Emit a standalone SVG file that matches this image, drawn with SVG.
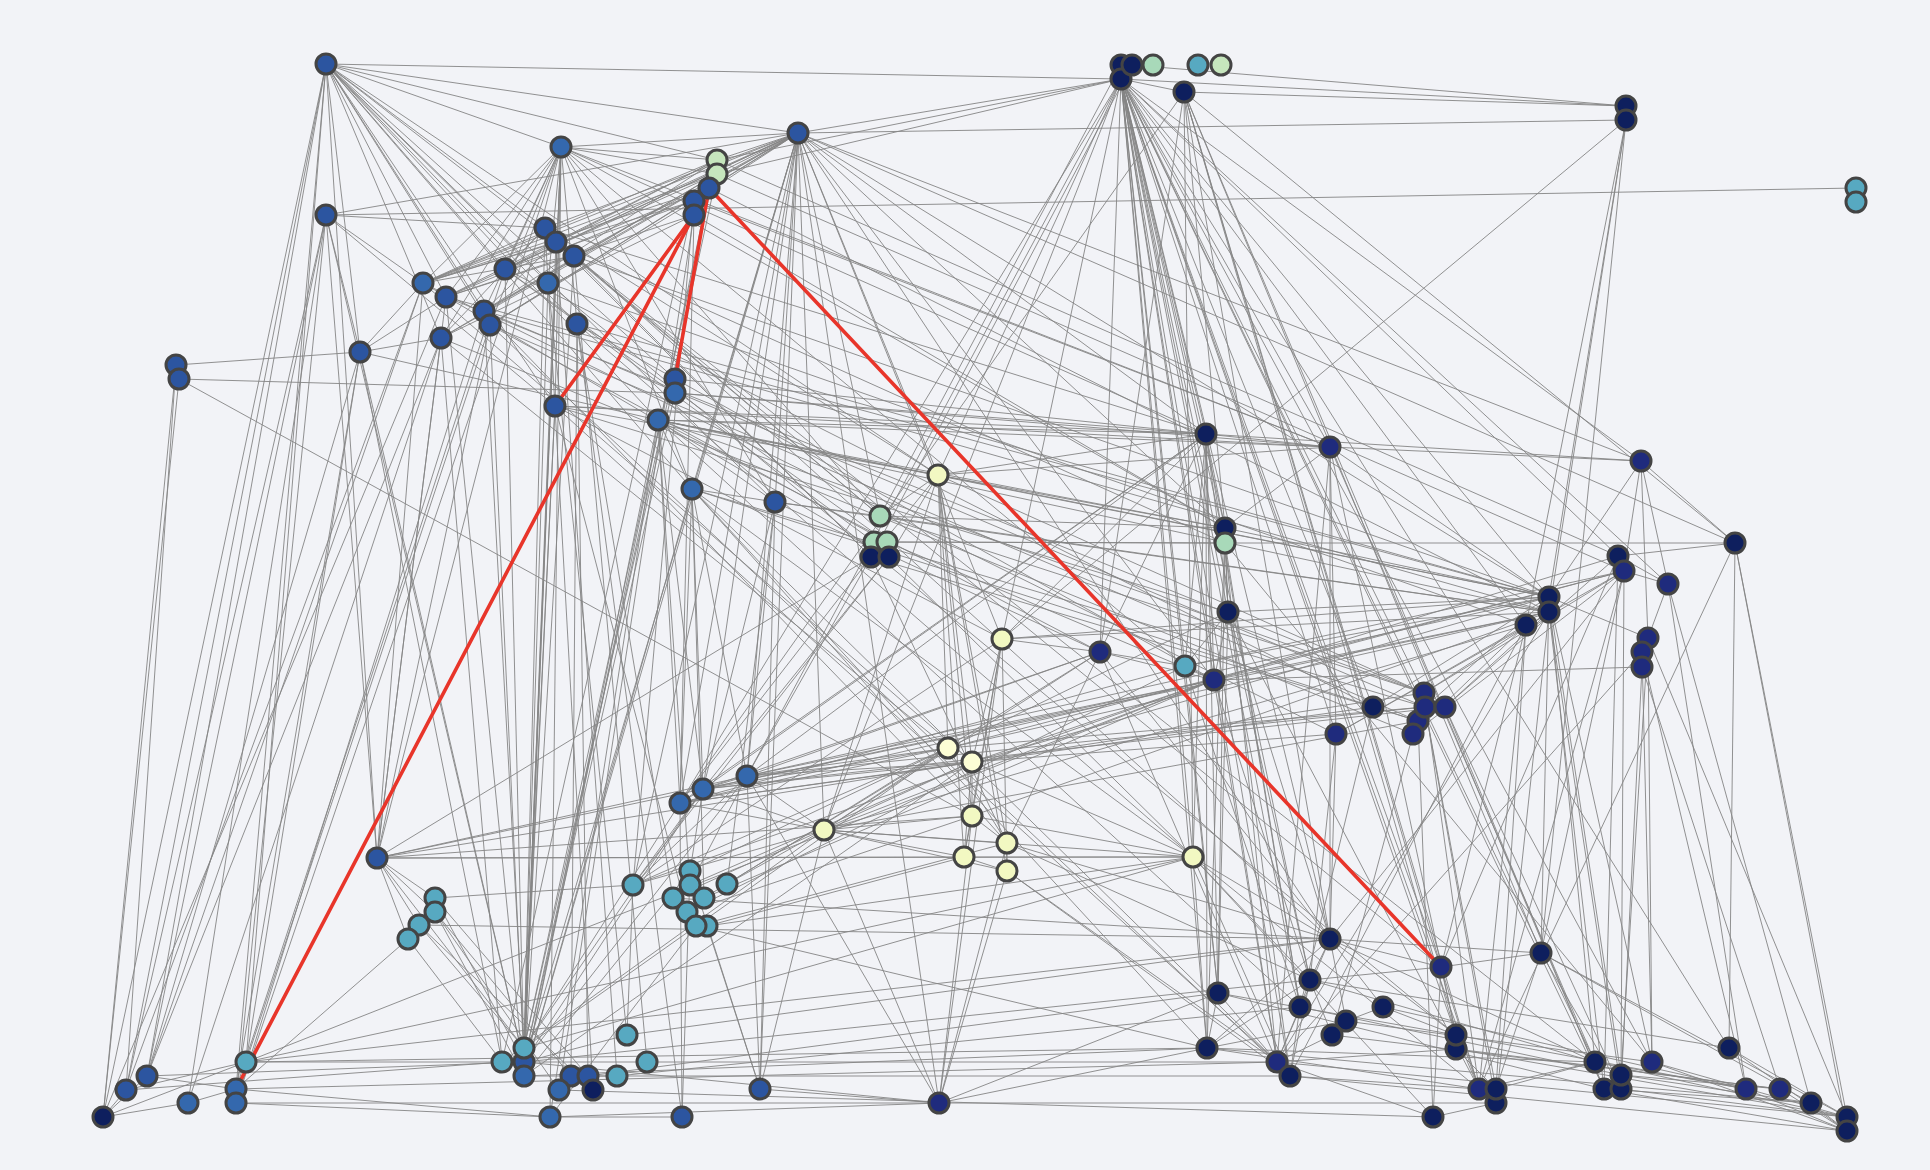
<svg xmlns="http://www.w3.org/2000/svg" width="1930" height="1170" viewBox="0 0 1930 1170">
<style>
.e line{stroke:#858585;stroke-width:1;stroke-opacity:0.9}
.r line{stroke:#e8352a;stroke-width:3.6;stroke-linecap:round}
circle{stroke:#444;stroke-width:3}
.b1{fill:#2c55a0}.b2{fill:#3468ad}.nv{fill:#1f2b7d}.dk{fill:#0e1f5e}.tl{fill:#57a9c1}.lg{fill:#a8d9b9}.pg{fill:#c6e6bd}.yl{fill:#f2f8c2}.yw{fill:#fdfed5}
</style>
<rect width="1930" height="1170" fill="#f2f3f7"/>
<g id="connectors">
<g class="e">
<line x1="326" y1="64" x2="1121" y2="79"/><line x1="326" y1="64" x2="798" y2="133"/><line x1="326" y1="64" x2="561" y2="147"/><line x1="326" y1="64" x2="717" y2="160"/><line x1="326" y1="64" x2="545" y2="228"/><line x1="326" y1="64" x2="574" y2="256"/><line x1="326" y1="64" x2="505" y2="269"/><line x1="326" y1="64" x2="548" y2="283"/><line x1="326" y1="64" x2="446" y2="297"/><line x1="326" y1="64" x2="484" y2="311"/><line x1="326" y1="64" x2="490" y2="325"/><line x1="326" y1="64" x2="577" y2="324"/><line x1="326" y1="64" x2="441" y2="338"/><line x1="326" y1="64" x2="555" y2="406"/><line x1="326" y1="64" x2="658" y2="420"/><line x1="326" y1="64" x2="675" y2="379"/><line x1="326" y1="64" x2="692" y2="489"/><line x1="326" y1="64" x2="775" y2="502"/><line x1="326" y1="64" x2="938" y2="475"/><line x1="326" y1="64" x2="360" y2="352"/><line x1="326" y1="64" x2="377" y2="858"/><line x1="326" y1="64" x2="147" y2="1076"/><line x1="326" y1="64" x2="126" y2="1090"/><line x1="326" y1="64" x2="103" y2="1117"/><line x1="326" y1="64" x2="236" y2="1089"/><line x1="326" y1="64" x2="246" y2="1062"/>
<line x1="326" y1="215" x2="545" y2="228"/><line x1="326" y1="215" x2="423" y2="283"/><line x1="326" y1="215" x2="360" y2="352"/><line x1="326" y1="215" x2="377" y2="858"/><line x1="326" y1="215" x2="147" y2="1076"/><line x1="326" y1="215" x2="126" y2="1090"/><line x1="326" y1="215" x2="188" y2="1103"/><line x1="326" y1="215" x2="236" y2="1103"/><line x1="326" y1="215" x2="1856" y2="188"/><line x1="326" y1="215" x2="555" y2="406"/><line x1="326" y1="215" x2="524" y2="1062"/>
<line x1="176" y1="365" x2="360" y2="352"/><line x1="176" y1="365" x2="179" y2="379"/><line x1="176" y1="365" x2="103" y2="1117"/><line x1="176" y1="365" x2="126" y2="1090"/><line x1="179" y1="379" x2="103" y2="1117"/><line x1="179" y1="379" x2="675" y2="393"/><line x1="179" y1="379" x2="972" y2="816"/><line x1="360" y1="352" x2="423" y2="283"/><line x1="360" y1="352" x2="446" y2="297"/><line x1="360" y1="352" x2="441" y2="338"/><line x1="360" y1="352" x2="658" y2="420"/><line x1="360" y1="352" x2="147" y2="1076"/><line x1="360" y1="352" x2="236" y2="1089"/><line x1="360" y1="352" x2="246" y2="1062"/><line x1="360" y1="352" x2="524" y2="1062"/><line x1="360" y1="352" x2="502" y2="1062"/>
<line x1="561" y1="147" x2="798" y2="133"/><line x1="561" y1="147" x2="717" y2="160"/><line x1="561" y1="147" x2="717" y2="174"/><line x1="561" y1="147" x2="423" y2="283"/><line x1="561" y1="147" x2="505" y2="269"/><line x1="561" y1="147" x2="446" y2="297"/><line x1="561" y1="147" x2="484" y2="311"/><line x1="561" y1="147" x2="490" y2="325"/><line x1="561" y1="147" x2="441" y2="338"/><line x1="561" y1="147" x2="548" y2="283"/><line x1="561" y1="147" x2="577" y2="324"/><line x1="561" y1="147" x2="555" y2="406"/><line x1="561" y1="147" x2="524" y2="1048"/><line x1="561" y1="147" x2="524" y2="1062"/><line x1="561" y1="147" x2="524" y2="1076"/><line x1="561" y1="147" x2="550" y2="1117"/><line x1="561" y1="147" x2="377" y2="858"/><line x1="561" y1="147" x2="880" y2="516"/><line x1="561" y1="147" x2="775" y2="502"/><line x1="561" y1="147" x2="1206" y2="434"/><line x1="561" y1="147" x2="1330" y2="447"/><line x1="561" y1="147" x2="1225" y2="528"/><line x1="561" y1="147" x2="1185" y2="666"/><line x1="561" y1="147" x2="692" y2="489"/><line x1="561" y1="147" x2="236" y2="1103"/>
<line x1="798" y1="133" x2="1121" y2="79"/><line x1="798" y1="133" x2="1626" y2="120"/><line x1="798" y1="133" x2="326" y2="215"/><line x1="798" y1="133" x2="545" y2="228"/><line x1="798" y1="133" x2="556" y2="242"/><line x1="798" y1="133" x2="574" y2="256"/><line x1="798" y1="133" x2="505" y2="269"/><line x1="798" y1="133" x2="423" y2="283"/><line x1="798" y1="133" x2="446" y2="297"/><line x1="798" y1="133" x2="484" y2="311"/><line x1="798" y1="133" x2="490" y2="325"/><line x1="798" y1="133" x2="441" y2="338"/><line x1="798" y1="133" x2="717" y2="160"/><line x1="798" y1="133" x2="717" y2="174"/><line x1="798" y1="133" x2="709" y2="188"/><line x1="798" y1="133" x2="694" y2="201"/><line x1="798" y1="133" x2="747" y2="776"/><line x1="798" y1="133" x2="703" y2="789"/><line x1="798" y1="133" x2="680" y2="803"/><line x1="798" y1="133" x2="824" y2="830"/><line x1="798" y1="133" x2="692" y2="489"/><line x1="798" y1="133" x2="775" y2="502"/><line x1="798" y1="133" x2="938" y2="475"/><line x1="798" y1="133" x2="880" y2="516"/><line x1="798" y1="133" x2="1002" y2="639"/><line x1="798" y1="133" x2="524" y2="1062"/><line x1="798" y1="133" x2="524" y2="1076"/><line x1="798" y1="133" x2="760" y2="1089"/><line x1="798" y1="133" x2="939" y2="1103"/><line x1="798" y1="133" x2="1206" y2="434"/><line x1="798" y1="133" x2="1641" y2="461"/><line x1="798" y1="133" x2="1735" y2="543"/><line x1="798" y1="133" x2="1549" y2="597"/><line x1="798" y1="133" x2="1225" y2="528"/><line x1="798" y1="133" x2="1214" y2="680"/><line x1="798" y1="133" x2="1330" y2="939"/><line x1="798" y1="133" x2="633" y2="885"/>
<line x1="423" y1="283" x2="545" y2="228"/><line x1="423" y1="283" x2="556" y2="242"/><line x1="423" y1="283" x2="574" y2="256"/><line x1="423" y1="283" x2="717" y2="160"/><line x1="423" y1="283" x2="717" y2="174"/><line x1="423" y1="283" x2="709" y2="188"/><line x1="423" y1="283" x2="694" y2="201"/><line x1="446" y1="297" x2="717" y2="160"/><line x1="446" y1="297" x2="709" y2="188"/><line x1="446" y1="297" x2="694" y2="215"/><line x1="505" y1="269" x2="717" y2="160"/><line x1="505" y1="269" x2="717" y2="174"/><line x1="505" y1="269" x2="694" y2="201"/><line x1="484" y1="311" x2="717" y2="160"/><line x1="484" y1="311" x2="717" y2="174"/><line x1="490" y1="325" x2="709" y2="188"/><line x1="490" y1="325" x2="694" y2="201"/><line x1="441" y1="338" x2="694" y2="215"/><line x1="441" y1="338" x2="717" y2="174"/><line x1="441" y1="338" x2="545" y2="228"/><line x1="505" y1="269" x2="545" y2="228"/><line x1="484" y1="311" x2="556" y2="242"/><line x1="446" y1="297" x2="574" y2="256"/>
<line x1="423" y1="283" x2="147" y2="1076"/><line x1="423" y1="283" x2="126" y2="1090"/><line x1="446" y1="297" x2="103" y2="1117"/><line x1="505" y1="269" x2="236" y2="1089"/><line x1="484" y1="311" x2="236" y2="1103"/><line x1="490" y1="325" x2="246" y2="1062"/><line x1="441" y1="338" x2="188" y2="1103"/><line x1="441" y1="338" x2="147" y2="1076"/><line x1="446" y1="297" x2="377" y2="858"/><line x1="490" y1="325" x2="377" y2="858"/><line x1="423" y1="283" x2="377" y2="858"/>
<line x1="545" y1="228" x2="524" y2="1048"/><line x1="556" y1="242" x2="524" y2="1062"/><line x1="574" y1="256" x2="524" y2="1076"/><line x1="505" y1="269" x2="524" y2="1062"/><line x1="548" y1="283" x2="524" y2="1048"/><line x1="446" y1="297" x2="524" y2="1076"/><line x1="484" y1="311" x2="524" y2="1048"/><line x1="490" y1="325" x2="524" y2="1062"/><line x1="577" y1="324" x2="571" y2="1076"/><line x1="577" y1="324" x2="588" y2="1076"/><line x1="441" y1="338" x2="502" y2="1062"/><line x1="555" y1="406" x2="524" y2="1062"/><line x1="555" y1="406" x2="524" y2="1048"/><line x1="658" y1="420" x2="524" y2="1076"/><line x1="675" y1="379" x2="524" y2="1048"/><line x1="675" y1="393" x2="524" y2="1062"/><line x1="692" y1="489" x2="524" y2="1076"/><line x1="717" y1="160" x2="524" y2="1048"/><line x1="717" y1="174" x2="524" y2="1062"/><line x1="709" y1="188" x2="524" y2="1076"/><line x1="694" y1="201" x2="502" y2="1062"/><line x1="694" y1="215" x2="559" y2="1090"/><line x1="658" y1="420" x2="550" y2="1117"/><line x1="545" y1="228" x2="593" y2="1090"/><line x1="556" y1="242" x2="617" y2="1076"/><line x1="574" y1="256" x2="647" y2="1062"/><line x1="548" y1="283" x2="627" y2="1035"/><line x1="577" y1="324" x2="682" y2="1117"/><line x1="694" y1="201" x2="633" y2="885"/><line x1="694" y1="215" x2="680" y2="803"/>
<line x1="545" y1="228" x2="1330" y2="939"/><line x1="556" y1="242" x2="1441" y2="967"/><line x1="574" y1="256" x2="1549" y2="597"/><line x1="548" y1="283" x2="1526" y2="625"/><line x1="446" y1="297" x2="1424" y2="693"/><line x1="484" y1="311" x2="1425" y2="707"/><line x1="490" y1="325" x2="1418" y2="721"/><line x1="577" y1="324" x2="1193" y2="857"/><line x1="577" y1="324" x2="1214" y2="680"/><line x1="505" y1="269" x2="1373" y2="707"/><line x1="423" y1="283" x2="1336" y2="734"/><line x1="441" y1="338" x2="1413" y2="734"/><line x1="555" y1="406" x2="1277" y2="1062"/><line x1="658" y1="420" x2="1300" y2="1007"/><line x1="717" y1="160" x2="1618" y2="556"/><line x1="717" y1="174" x2="1624" y2="571"/><line x1="709" y1="188" x2="1549" y2="612"/><line x1="694" y1="201" x2="1330" y2="447"/><line x1="694" y1="215" x2="1225" y2="528"/><line x1="555" y1="406" x2="1002" y2="639"/><line x1="658" y1="420" x2="1100" y2="652"/><line x1="548" y1="283" x2="1456" y2="1035"/><line x1="574" y1="256" x2="1595" y2="1062"/><line x1="490" y1="325" x2="1290" y2="1076"/><line x1="545" y1="228" x2="1206" y2="434"/><line x1="556" y1="242" x2="1225" y2="543"/><line x1="441" y1="338" x2="948" y2="748"/><line x1="423" y1="283" x2="972" y2="762"/><line x1="484" y1="311" x2="972" y2="816"/><line x1="545" y1="228" x2="938" y2="475"/><line x1="574" y1="256" x2="880" y2="516"/><line x1="556" y1="242" x2="871" y2="557"/><line x1="505" y1="269" x2="887" y2="542"/>
<line x1="675" y1="393" x2="1206" y2="434"/><line x1="675" y1="393" x2="1330" y2="447"/><line x1="675" y1="379" x2="1206" y2="434"/><line x1="658" y1="420" x2="1206" y2="434"/><line x1="658" y1="420" x2="1330" y2="447"/><line x1="658" y1="420" x2="1225" y2="528"/><line x1="658" y1="420" x2="1549" y2="597"/><line x1="658" y1="420" x2="1549" y2="612"/><line x1="658" y1="420" x2="1424" y2="693"/><line x1="658" y1="420" x2="938" y2="475"/><line x1="658" y1="420" x2="692" y2="489"/><line x1="658" y1="420" x2="775" y2="502"/><line x1="658" y1="420" x2="680" y2="803"/><line x1="658" y1="420" x2="703" y2="789"/><line x1="692" y1="489" x2="775" y2="502"/><line x1="692" y1="489" x2="747" y2="776"/><line x1="692" y1="489" x2="703" y2="789"/><line x1="692" y1="489" x2="680" y2="803"/><line x1="692" y1="489" x2="1193" y2="857"/><line x1="692" y1="489" x2="1425" y2="707"/><line x1="692" y1="489" x2="1418" y2="721"/><line x1="692" y1="489" x2="1207" y2="1048"/><line x1="692" y1="489" x2="1277" y2="1062"/><line x1="692" y1="489" x2="1007" y2="843"/><line x1="775" y1="502" x2="880" y2="516"/><line x1="775" y1="502" x2="747" y2="776"/><line x1="775" y1="502" x2="703" y2="789"/><line x1="775" y1="502" x2="760" y2="1089"/><line x1="775" y1="502" x2="1100" y2="652"/><line x1="555" y1="406" x2="1330" y2="447"/><line x1="555" y1="406" x2="1206" y2="434"/><line x1="555" y1="406" x2="938" y2="475"/><line x1="555" y1="406" x2="1228" y2="612"/>
<line x1="1121" y1="79" x2="1626" y2="106"/><line x1="1132" y1="65" x2="1626" y2="106"/><line x1="1121" y1="79" x2="1184" y2="92"/><line x1="1121" y1="79" x2="717" y2="160"/><line x1="1121" y1="79" x2="717" y2="174"/><line x1="1121" y1="79" x2="1206" y2="434"/><line x1="1121" y1="79" x2="1225" y2="528"/><line x1="1121" y1="79" x2="1225" y2="543"/><line x1="1121" y1="79" x2="1228" y2="612"/><line x1="1121" y1="79" x2="1100" y2="652"/><line x1="1121" y1="79" x2="1185" y2="666"/><line x1="1121" y1="79" x2="1214" y2="680"/><line x1="1121" y1="79" x2="1330" y2="447"/><line x1="1121" y1="79" x2="1641" y2="461"/><line x1="1121" y1="79" x2="1618" y2="556"/><line x1="1121" y1="79" x2="1668" y2="584"/><line x1="1121" y1="79" x2="1549" y2="597"/><line x1="1121" y1="79" x2="1526" y2="625"/><line x1="1121" y1="79" x2="1424" y2="693"/><line x1="1121" y1="79" x2="1373" y2="707"/><line x1="1121" y1="79" x2="1336" y2="734"/><line x1="1121" y1="79" x2="1330" y2="939"/><line x1="1121" y1="79" x2="1441" y2="967"/><line x1="1121" y1="79" x2="1310" y2="980"/><line x1="1121" y1="79" x2="1300" y2="1007"/><line x1="1121" y1="79" x2="1218" y2="993"/><line x1="1121" y1="79" x2="1207" y2="1048"/><line x1="1121" y1="79" x2="1277" y2="1062"/><line x1="1121" y1="79" x2="1290" y2="1076"/><line x1="1121" y1="79" x2="1456" y2="1035"/><line x1="1121" y1="79" x2="1479" y2="1089"/><line x1="1121" y1="79" x2="1595" y2="1062"/><line x1="1121" y1="79" x2="1604" y2="1089"/><line x1="1121" y1="79" x2="747" y2="776"/><line x1="1121" y1="79" x2="824" y2="830"/><line x1="1121" y1="79" x2="680" y2="803"/><line x1="1121" y1="79" x2="1002" y2="639"/><line x1="1121" y1="79" x2="938" y2="475"/><line x1="1121" y1="79" x2="1193" y2="857"/><line x1="1121" y1="79" x2="1652" y2="1062"/><line x1="1121" y1="79" x2="1729" y2="1048"/><line x1="1121" y1="65" x2="880" y2="516"/><line x1="1132" y1="65" x2="871" y2="557"/>
<line x1="1184" y1="92" x2="1626" y2="106"/><line x1="1184" y1="92" x2="1100" y2="652"/><line x1="1184" y1="92" x2="1193" y2="857"/><line x1="1184" y1="92" x2="1330" y2="939"/><line x1="1184" y1="92" x2="1441" y2="967"/><line x1="1184" y1="92" x2="680" y2="803"/><line x1="1184" y1="92" x2="1456" y2="1035"/><line x1="1184" y1="92" x2="1541" y2="953"/><line x1="1184" y1="92" x2="1479" y2="1089"/><line x1="1184" y1="92" x2="1604" y2="1089"/><line x1="1184" y1="92" x2="1225" y2="528"/><line x1="1184" y1="92" x2="1735" y2="543"/>
<line x1="1626" y1="120" x2="1549" y2="597"/><line x1="1626" y1="120" x2="1526" y2="625"/><line x1="1626" y1="120" x2="1541" y2="953"/><line x1="1626" y1="120" x2="1002" y2="639"/><line x1="1626" y1="120" x2="1549" y2="612"/>
<line x1="938" y1="475" x2="948" y2="748"/><line x1="938" y1="475" x2="972" y2="762"/><line x1="938" y1="475" x2="824" y2="830"/><line x1="938" y1="475" x2="972" y2="816"/><line x1="938" y1="475" x2="1007" y2="843"/><line x1="938" y1="475" x2="964" y2="857"/><line x1="938" y1="475" x2="871" y2="557"/><line x1="938" y1="475" x2="889" y2="557"/><line x1="938" y1="475" x2="880" y2="516"/><line x1="938" y1="475" x2="1206" y2="434"/><line x1="938" y1="475" x2="1225" y2="528"/><line x1="938" y1="475" x2="1330" y2="447"/><line x1="938" y1="475" x2="1007" y2="871"/><line x1="938" y1="475" x2="1424" y2="693"/><line x1="938" y1="475" x2="1549" y2="597"/>
<line x1="880" y1="516" x2="1225" y2="528"/><line x1="874" y1="542" x2="1225" y2="543"/><line x1="887" y1="542" x2="1225" y2="543"/><line x1="871" y1="557" x2="747" y2="776"/><line x1="889" y1="557" x2="703" y2="789"/><line x1="871" y1="557" x2="680" y2="803"/><line x1="889" y1="557" x2="633" y2="885"/><line x1="871" y1="557" x2="377" y2="858"/><line x1="880" y1="516" x2="556" y2="242"/><line x1="874" y1="542" x2="505" y2="269"/><line x1="887" y1="542" x2="490" y2="325"/><line x1="871" y1="557" x2="545" y2="228"/><line x1="889" y1="557" x2="423" y2="283"/><line x1="889" y1="557" x2="1193" y2="857"/><line x1="871" y1="557" x2="1007" y2="843"/><line x1="887" y1="542" x2="1214" y2="680"/>
<line x1="1206" y1="434" x2="1330" y2="447"/><line x1="1206" y1="434" x2="1641" y2="461"/><line x1="1206" y1="434" x2="1225" y2="528"/><line x1="1206" y1="434" x2="1100" y2="652"/><line x1="1206" y1="434" x2="1185" y2="666"/><line x1="1206" y1="434" x2="1214" y2="680"/><line x1="1206" y1="434" x2="1193" y2="857"/><line x1="1206" y1="434" x2="1300" y2="1007"/><line x1="1206" y1="434" x2="1218" y2="993"/><line x1="1206" y1="434" x2="1207" y2="1048"/><line x1="1206" y1="434" x2="1290" y2="1076"/><line x1="1206" y1="434" x2="703" y2="789"/><line x1="1206" y1="434" x2="680" y2="803"/><line x1="1206" y1="434" x2="747" y2="776"/><line x1="1206" y1="434" x2="1002" y2="639"/>
<line x1="1225" y1="528" x2="1330" y2="447"/><line x1="1225" y1="528" x2="1549" y2="597"/><line x1="1225" y1="543" x2="1735" y2="543"/><line x1="1225" y1="528" x2="1228" y2="612"/><line x1="1225" y1="543" x2="1228" y2="612"/><line x1="1225" y1="528" x2="1218" y2="993"/><line x1="1225" y1="528" x2="1207" y2="1048"/><line x1="1225" y1="543" x2="1277" y2="1062"/><line x1="1225" y1="543" x2="1300" y2="1007"/><line x1="1225" y1="543" x2="1652" y2="1062"/><line x1="1228" y1="612" x2="1214" y2="680"/><line x1="1228" y1="612" x2="1185" y2="666"/><line x1="1228" y1="612" x2="1330" y2="939"/><line x1="1228" y1="612" x2="1218" y2="993"/><line x1="1228" y1="612" x2="1310" y2="980"/><line x1="1228" y1="612" x2="1549" y2="597"/><line x1="1228" y1="612" x2="1479" y2="1089"/>
<line x1="1002" y1="639" x2="1100" y2="652"/><line x1="1002" y1="639" x2="1549" y2="597"/><line x1="1002" y1="639" x2="1549" y2="612"/><line x1="1002" y1="639" x2="964" y2="857"/><line x1="1002" y1="639" x2="1007" y2="871"/><line x1="1002" y1="639" x2="939" y2="1103"/><line x1="1002" y1="639" x2="972" y2="762"/><line x1="1002" y1="639" x2="972" y2="816"/><line x1="1002" y1="639" x2="633" y2="885"/><line x1="1100" y1="652" x2="1185" y2="666"/><line x1="1100" y1="652" x2="1214" y2="680"/><line x1="1100" y1="652" x2="747" y2="776"/><line x1="1100" y1="652" x2="703" y2="789"/><line x1="1100" y1="652" x2="824" y2="830"/><line x1="1100" y1="652" x2="1007" y2="843"/><line x1="1100" y1="652" x2="1330" y2="939"/><line x1="1100" y1="652" x2="1277" y2="1062"/><line x1="1185" y1="666" x2="1214" y2="680"/><line x1="1185" y1="666" x2="1624" y2="571"/><line x1="1185" y1="666" x2="1549" y2="597"/><line x1="1185" y1="666" x2="1218" y2="993"/><line x1="1185" y1="666" x2="1300" y2="1007"/><line x1="1185" y1="666" x2="680" y2="803"/><line x1="1214" y1="680" x2="1642" y2="667"/><line x1="1214" y1="680" x2="1618" y2="556"/><line x1="1214" y1="680" x2="1624" y2="571"/><line x1="1214" y1="680" x2="1549" y2="612"/><line x1="1214" y1="680" x2="703" y2="789"/><line x1="1214" y1="680" x2="680" y2="803"/><line x1="1214" y1="680" x2="747" y2="776"/><line x1="1214" y1="680" x2="824" y2="830"/><line x1="1214" y1="680" x2="633" y2="885"/><line x1="1214" y1="680" x2="1310" y2="980"/><line x1="1214" y1="680" x2="1277" y2="1062"/>
<line x1="1330" y1="447" x2="1641" y2="461"/><line x1="1330" y1="447" x2="1336" y2="734"/><line x1="1330" y1="447" x2="1330" y2="939"/><line x1="1330" y1="447" x2="1277" y2="1062"/><line x1="1330" y1="447" x2="1456" y2="1035"/><line x1="1330" y1="447" x2="1595" y2="1062"/><line x1="1330" y1="447" x2="1549" y2="597"/><line x1="1641" y1="461" x2="1735" y2="543"/><line x1="1641" y1="461" x2="1668" y2="584"/><line x1="1641" y1="461" x2="1549" y2="597"/><line x1="1641" y1="461" x2="1648" y2="638"/><line x1="1641" y1="461" x2="1624" y2="571"/><line x1="1735" y1="543" x2="1618" y2="556"/><line x1="1735" y1="543" x2="1729" y2="1048"/><line x1="1735" y1="543" x2="1479" y2="1089"/><line x1="1735" y1="543" x2="1847" y2="1117"/><line x1="1735" y1="543" x2="1847" y2="1131"/>
<line x1="1618" y1="556" x2="1668" y2="584"/><line x1="1624" y1="571" x2="1668" y2="584"/><line x1="1624" y1="571" x2="1424" y2="693"/><line x1="1618" y1="556" x2="1445" y2="707"/><line x1="1624" y1="571" x2="1413" y2="734"/><line x1="1624" y1="571" x2="1336" y2="734"/><line x1="1624" y1="571" x2="1330" y2="939"/><line x1="1618" y1="556" x2="1604" y2="1089"/><line x1="1624" y1="571" x2="1621" y2="1075"/><line x1="1624" y1="571" x2="1541" y2="953"/><line x1="1624" y1="571" x2="1479" y2="1089"/><line x1="1618" y1="556" x2="1441" y2="967"/><line x1="1668" y1="584" x2="1811" y2="1103"/><line x1="1668" y1="584" x2="1746" y2="1089"/><line x1="1668" y1="584" x2="1648" y2="638"/>
<line x1="1549" y1="597" x2="1648" y2="638"/><line x1="1549" y1="612" x2="1424" y2="693"/><line x1="1549" y1="597" x2="1425" y2="707"/><line x1="1549" y1="612" x2="1445" y2="707"/><line x1="1526" y1="625" x2="1413" y2="734"/><line x1="1526" y1="625" x2="1336" y2="734"/><line x1="1549" y1="597" x2="1595" y2="1062"/><line x1="1549" y1="597" x2="1621" y2="1075"/><line x1="1549" y1="612" x2="1604" y2="1089"/><line x1="1549" y1="612" x2="1621" y2="1089"/><line x1="1526" y1="625" x2="1479" y2="1089"/><line x1="1526" y1="625" x2="1496" y2="1089"/><line x1="1549" y1="597" x2="1541" y2="953"/><line x1="1549" y1="612" x2="1496" y2="1103"/><line x1="1526" y1="625" x2="1441" y2="967"/><line x1="1549" y1="597" x2="1652" y2="1062"/><line x1="1549" y1="612" x2="1277" y2="1062"/><line x1="1526" y1="625" x2="1290" y2="1076"/><line x1="1549" y1="597" x2="1373" y2="707"/>
<line x1="446" y1="297" x2="1549" y2="597"/><line x1="484" y1="311" x2="1549" y2="612"/><line x1="577" y1="324" x2="1549" y2="597"/><line x1="775" y1="502" x2="1549" y2="612"/><line x1="880" y1="516" x2="1549" y2="612"/><line x1="747" y1="776" x2="1549" y2="597"/><line x1="703" y1="789" x2="1549" y2="612"/><line x1="824" y1="830" x2="1526" y2="625"/><line x1="972" y1="816" x2="1549" y2="612"/>
<line x1="1648" y1="638" x2="1652" y2="1062"/><line x1="1642" y1="652" x2="1652" y2="1062"/><line x1="1642" y1="667" x2="1621" y2="1089"/><line x1="1648" y1="638" x2="1621" y2="1075"/><line x1="1642" y1="652" x2="1746" y2="1089"/><line x1="1642" y1="667" x2="1780" y2="1089"/><line x1="1648" y1="638" x2="1847" y2="1117"/><line x1="1642" y1="652" x2="1277" y2="1062"/>
<line x1="1424" y1="693" x2="880" y2="516"/><line x1="1425" y1="707" x2="747" y2="776"/><line x1="1445" y1="707" x2="703" y2="789"/><line x1="1373" y1="707" x2="680" y2="803"/><line x1="1418" y1="721" x2="824" y2="830"/><line x1="1336" y1="734" x2="972" y2="762"/><line x1="1373" y1="707" x2="871" y2="557"/><line x1="1424" y1="693" x2="1479" y2="1089"/><line x1="1425" y1="707" x2="1496" y2="1089"/><line x1="1445" y1="707" x2="1604" y2="1089"/><line x1="1373" y1="707" x2="1300" y2="1007"/><line x1="1418" y1="721" x2="1433" y2="1117"/><line x1="1413" y1="734" x2="1332" y2="1035"/><line x1="1336" y1="734" x2="1330" y2="939"/><line x1="1336" y1="734" x2="1310" y2="980"/><line x1="1445" y1="707" x2="1621" y2="1089"/><line x1="1425" y1="707" x2="1496" y2="1103"/><line x1="1424" y1="693" x2="1425" y2="707"/><line x1="1373" y1="707" x2="1418" y2="721"/>
<line x1="1330" y1="939" x2="1441" y2="967"/><line x1="1330" y1="939" x2="1541" y2="953"/><line x1="1330" y1="939" x2="1310" y2="980"/><line x1="1330" y1="939" x2="1383" y2="1007"/><line x1="1330" y1="939" x2="1346" y2="1021"/><line x1="1330" y1="939" x2="1207" y2="1048"/><line x1="1330" y1="939" x2="1277" y2="1062"/><line x1="1330" y1="939" x2="1456" y2="1035"/><line x1="1330" y1="939" x2="1595" y2="1062"/><line x1="1441" y1="967" x2="1541" y2="953"/><line x1="1441" y1="967" x2="1310" y2="980"/><line x1="1441" y1="967" x2="1456" y2="1035"/><line x1="1441" y1="967" x2="1479" y2="1089"/><line x1="1441" y1="967" x2="1433" y2="1117"/><line x1="1541" y1="953" x2="1811" y2="1103"/><line x1="1541" y1="953" x2="1621" y2="1089"/><line x1="1541" y1="953" x2="1847" y2="1117"/><line x1="1541" y1="953" x2="1496" y2="1089"/>
<line x1="1310" y1="980" x2="1300" y2="1007"/><line x1="1310" y1="980" x2="1332" y2="1035"/><line x1="1310" y1="980" x2="1207" y2="1048"/><line x1="1310" y1="980" x2="1290" y2="1076"/><line x1="1310" y1="980" x2="1595" y2="1062"/><line x1="1310" y1="980" x2="1729" y2="1048"/><line x1="1300" y1="1007" x2="1277" y2="1062"/><line x1="1300" y1="1007" x2="1290" y2="1076"/><line x1="1300" y1="1007" x2="1621" y2="1075"/><line x1="1383" y1="1007" x2="1346" y2="1021"/><line x1="1383" y1="1007" x2="1456" y2="1035"/><line x1="1383" y1="1007" x2="1746" y2="1089"/><line x1="1346" y1="1021" x2="1207" y2="1048"/><line x1="1332" y1="1035" x2="1277" y2="1062"/><line x1="1346" y1="1021" x2="1652" y2="1062"/><line x1="1332" y1="1035" x2="1780" y2="1089"/><line x1="1218" y1="993" x2="1207" y2="1048"/><line x1="1218" y1="993" x2="1277" y2="1062"/><line x1="1218" y1="993" x2="1456" y2="1035"/><line x1="1218" y1="993" x2="1604" y2="1089"/><line x1="1207" y1="1048" x2="1479" y2="1089"/><line x1="1207" y1="1048" x2="1595" y2="1062"/><line x1="1207" y1="1048" x2="1811" y2="1103"/><line x1="1277" y1="1062" x2="1456" y2="1049"/><line x1="1277" y1="1062" x2="1847" y2="1117"/><line x1="1277" y1="1062" x2="1433" y2="1117"/>
<line x1="1456" y1="1035" x2="1479" y2="1089"/><line x1="1456" y1="1049" x2="1496" y2="1089"/><line x1="1456" y1="1035" x2="1746" y2="1089"/><line x1="1456" y1="1049" x2="1780" y2="1089"/><line x1="1456" y1="1049" x2="1847" y2="1117"/><line x1="1479" y1="1089" x2="1595" y2="1062"/><line x1="1496" y1="1089" x2="1595" y2="1062"/><line x1="1496" y1="1103" x2="1433" y2="1117"/><line x1="1595" y1="1062" x2="1746" y2="1089"/><line x1="1621" y1="1075" x2="1780" y2="1089"/><line x1="1604" y1="1089" x2="1811" y2="1103"/><line x1="1621" y1="1089" x2="1847" y2="1117"/><line x1="1652" y1="1062" x2="1847" y2="1117"/><line x1="1652" y1="1062" x2="1847" y2="1131"/><line x1="1729" y1="1048" x2="1847" y2="1117"/><line x1="1729" y1="1048" x2="1847" y2="1131"/><line x1="1746" y1="1089" x2="1847" y2="1131"/><line x1="1780" y1="1089" x2="1847" y2="1131"/><line x1="1811" y1="1103" x2="1847" y2="1131"/><line x1="1621" y1="1075" x2="1811" y2="1103"/><line x1="1595" y1="1062" x2="1847" y2="1117"/><line x1="1604" y1="1089" x2="1847" y2="1131"/><line x1="1290" y1="1076" x2="1479" y2="1089"/><line x1="1290" y1="1076" x2="1847" y2="1131"/>
<line x1="236" y1="1089" x2="550" y2="1117"/><line x1="236" y1="1103" x2="550" y2="1117"/><line x1="236" y1="1103" x2="939" y2="1103"/><line x1="236" y1="1089" x2="1277" y2="1062"/><line x1="246" y1="1062" x2="524" y2="1062"/><line x1="246" y1="1062" x2="1207" y2="1048"/><line x1="147" y1="1076" x2="524" y2="1062"/><line x1="126" y1="1090" x2="502" y2="1062"/><line x1="103" y1="1117" x2="188" y2="1103"/><line x1="103" y1="1117" x2="126" y2="1090"/><line x1="103" y1="1117" x2="147" y2="1076"/><line x1="188" y1="1103" x2="236" y2="1089"/><line x1="147" y1="1076" x2="236" y2="1089"/><line x1="246" y1="1062" x2="1193" y2="857"/><line x1="246" y1="1062" x2="1330" y2="939"/><line x1="246" y1="1062" x2="1214" y2="680"/><line x1="103" y1="1117" x2="246" y2="1062"/><line x1="126" y1="1090" x2="246" y2="1062"/>
<line x1="377" y1="858" x2="435" y2="898"/><line x1="377" y1="858" x2="435" y2="912"/><line x1="377" y1="858" x2="419" y2="925"/><line x1="377" y1="858" x2="408" y2="939"/><line x1="377" y1="858" x2="1193" y2="857"/><line x1="377" y1="858" x2="972" y2="816"/><line x1="377" y1="858" x2="972" y2="762"/><line x1="377" y1="858" x2="964" y2="857"/><line x1="377" y1="858" x2="524" y2="1048"/><line x1="435" y1="898" x2="524" y2="1062"/><line x1="435" y1="912" x2="524" y2="1076"/><line x1="419" y1="925" x2="524" y2="1048"/><line x1="408" y1="939" x2="502" y2="1062"/><line x1="435" y1="898" x2="588" y2="1076"/><line x1="435" y1="912" x2="559" y2="1090"/><line x1="419" y1="925" x2="593" y2="1090"/><line x1="435" y1="898" x2="633" y2="885"/><line x1="419" y1="925" x2="1330" y2="939"/><line x1="408" y1="939" x2="236" y2="1089"/><line x1="435" y1="912" x2="571" y2="1076"/><line x1="377" y1="858" x2="441" y2="338"/>
<line x1="690" y1="871" x2="948" y2="748"/><line x1="690" y1="885" x2="972" y2="762"/><line x1="727" y1="884" x2="824" y2="830"/><line x1="673" y1="898" x2="972" y2="762"/><line x1="704" y1="898" x2="948" y2="748"/><line x1="687" y1="912" x2="972" y2="816"/><line x1="696" y1="926" x2="1007" y2="843"/><line x1="707" y1="926" x2="964" y2="857"/><line x1="690" y1="871" x2="703" y2="789"/><line x1="690" y1="885" x2="747" y2="776"/><line x1="690" y1="871" x2="682" y2="1117"/><line x1="696" y1="926" x2="550" y2="1117"/><line x1="707" y1="926" x2="760" y2="1089"/><line x1="690" y1="885" x2="658" y2="420"/><line x1="727" y1="884" x2="775" y2="502"/><line x1="673" y1="898" x2="577" y2="324"/><line x1="704" y1="898" x2="692" y2="489"/><line x1="687" y1="912" x2="555" y2="406"/><line x1="727" y1="884" x2="1100" y2="652"/><line x1="704" y1="898" x2="1214" y2="680"/><line x1="687" y1="912" x2="1185" y2="666"/><line x1="707" y1="926" x2="1193" y2="857"/><line x1="696" y1="926" x2="1207" y2="1048"/><line x1="673" y1="898" x2="1330" y2="939"/><line x1="633" y1="885" x2="627" y2="1035"/><line x1="633" y1="885" x2="747" y2="776"/>
<line x1="948" y1="748" x2="747" y2="776"/><line x1="948" y1="748" x2="703" y2="789"/><line x1="948" y1="748" x2="680" y2="803"/><line x1="972" y1="762" x2="747" y2="776"/><line x1="972" y1="762" x2="703" y2="789"/><line x1="972" y1="762" x2="680" y2="803"/><line x1="948" y1="748" x2="824" y2="830"/><line x1="972" y1="762" x2="972" y2="816"/><line x1="948" y1="748" x2="1007" y2="843"/><line x1="972" y1="762" x2="964" y2="857"/><line x1="948" y1="748" x2="1624" y2="571"/><line x1="972" y1="762" x2="1549" y2="597"/><line x1="948" y1="748" x2="1549" y2="612"/><line x1="972" y1="762" x2="1424" y2="693"/><line x1="948" y1="748" x2="1425" y2="707"/><line x1="972" y1="762" x2="1193" y2="857"/><line x1="948" y1="748" x2="1228" y2="612"/><line x1="972" y1="762" x2="1214" y2="680"/><line x1="948" y1="748" x2="633" y2="885"/>
<line x1="824" y1="830" x2="747" y2="776"/><line x1="824" y1="830" x2="703" y2="789"/><line x1="824" y1="830" x2="680" y2="803"/><line x1="824" y1="830" x2="972" y2="816"/><line x1="824" y1="830" x2="1007" y2="843"/><line x1="824" y1="830" x2="964" y2="857"/><line x1="824" y1="830" x2="1007" y2="871"/><line x1="824" y1="830" x2="939" y2="1103"/><line x1="824" y1="830" x2="760" y2="1089"/><line x1="824" y1="830" x2="633" y2="885"/><line x1="824" y1="830" x2="1193" y2="857"/><line x1="972" y1="816" x2="1007" y2="843"/><line x1="964" y1="857" x2="1007" y2="871"/><line x1="972" y1="816" x2="964" y2="857"/><line x1="1007" y1="843" x2="1007" y2="871"/><line x1="972" y1="816" x2="939" y2="1103"/><line x1="1007" y1="871" x2="939" y2="1103"/><line x1="1007" y1="843" x2="1330" y2="939"/><line x1="1007" y1="871" x2="1277" y2="1062"/><line x1="972" y1="816" x2="1193" y2="857"/><line x1="964" y1="857" x2="1193" y2="857"/><line x1="1007" y1="871" x2="1290" y2="1076"/><line x1="1007" y1="843" x2="1310" y2="980"/>
<line x1="1193" y1="857" x2="1330" y2="939"/><line x1="1193" y1="857" x2="1207" y2="1048"/><line x1="1193" y1="857" x2="1310" y2="980"/><line x1="1193" y1="857" x2="1290" y2="1076"/><line x1="1193" y1="857" x2="1433" y2="1117"/><line x1="1193" y1="857" x2="1479" y2="1089"/>
<line x1="747" y1="776" x2="377" y2="858"/><line x1="703" y1="789" x2="377" y2="858"/><line x1="680" y1="803" x2="524" y2="1048"/><line x1="703" y1="789" x2="524" y2="1062"/><line x1="747" y1="776" x2="760" y2="1089"/><line x1="680" y1="803" x2="682" y2="1117"/><line x1="747" y1="776" x2="939" y2="1103"/><line x1="703" y1="789" x2="633" y2="885"/><line x1="747" y1="776" x2="703" y2="789"/><line x1="703" y1="789" x2="680" y2="803"/>
<line x1="939" y1="1103" x2="1218" y2="993"/><line x1="939" y1="1103" x2="1207" y2="1048"/><line x1="939" y1="1103" x2="1496" y2="1103"/><line x1="939" y1="1103" x2="760" y2="1089"/><line x1="939" y1="1103" x2="550" y2="1117"/><line x1="939" y1="1103" x2="524" y2="1062"/><line x1="939" y1="1103" x2="1007" y2="843"/><line x1="760" y1="1089" x2="690" y2="871"/><line x1="682" y1="1117" x2="550" y2="1117"/>
<line x1="627" y1="1035" x2="524" y2="1062"/><line x1="647" y1="1062" x2="502" y2="1062"/><line x1="617" y1="1076" x2="524" y2="1076"/><line x1="627" y1="1035" x2="1330" y2="939"/><line x1="647" y1="1062" x2="1277" y2="1062"/><line x1="617" y1="1076" x2="1300" y2="1007"/><line x1="588" y1="1076" x2="1218" y2="993"/><line x1="571" y1="1076" x2="1290" y2="1076"/><line x1="559" y1="1090" x2="1433" y2="1117"/><line x1="524" y1="1076" x2="1207" y2="1048"/><line x1="524" y1="1062" x2="1310" y2="980"/><line x1="524" y1="1048" x2="1193" y2="857"/><line x1="502" y1="1062" x2="824" y2="830"/><line x1="524" y1="1048" x2="948" y2="748"/><line x1="524" y1="1076" x2="972" y2="762"/><line x1="524" y1="1062" x2="747" y2="776"/><line x1="524" y1="1048" x2="703" y2="789"/><line x1="524" y1="1076" x2="690" y2="871"/>
</g>
<g class="r">
<line x1="694" y1="215" x2="555" y2="406"/><line x1="694" y1="215" x2="236" y2="1089"/><line x1="709" y1="188" x2="675" y2="379"/><line x1="709" y1="188" x2="1441" y2="967"/>
</g>
</g>
<g id="nodes">
<g id="n1"><circle class="b1" cx="326" cy="64" r="10"/></g>
<g id="n2"><circle class="b2" cx="561" cy="147" r="10"/></g>
<g id="n3"><circle class="b1" cx="326" cy="215" r="10"/></g>
<g id="n4"><circle class="b1" cx="545" cy="228" r="10"/></g>
<g id="n5"><circle class="b1" cx="556" cy="242" r="10"/></g>
<g id="n6"><circle class="b1" cx="574" cy="256" r="10"/></g>
<g id="n7"><circle class="b1" cx="505" cy="269" r="10"/></g>
<g id="n8"><circle class="b2" cx="548" cy="283" r="10"/></g>
<g id="n9"><circle class="b2" cx="423" cy="283" r="10"/></g>
<g id="n10"><circle class="b1" cx="446" cy="297" r="10"/></g>
<g id="n11"><circle class="b1" cx="484" cy="311" r="10"/></g>
<g id="n12"><circle class="b1" cx="490" cy="325" r="10"/></g>
<g id="n13"><circle class="b1" cx="577" cy="324" r="10"/></g>
<g id="n14"><circle class="b1" cx="441" cy="338" r="10"/></g>
<g id="n15"><circle class="b1" cx="360" cy="352" r="10"/></g>
<g id="n16"><circle class="b1" cx="176" cy="365" r="10"/></g>
<g id="n17"><circle class="b1" cx="179" cy="379" r="10"/></g>
<g id="n18"><circle class="b1" cx="555" cy="406" r="10"/></g>
<g id="n19"><circle class="b2" cx="658" cy="420" r="10"/></g>
<g id="n20"><circle class="b1" cx="798" cy="133" r="10"/></g>
<g id="n21"><circle class="pg" cx="717" cy="160" r="10"/></g>
<g id="n22"><circle class="pg" cx="717" cy="174" r="10"/></g>
<g id="n23"><circle class="b1" cx="709" cy="188" r="10"/></g>
<g id="n24"><circle class="b1" cx="694" cy="201" r="10"/></g>
<g id="n25"><circle class="b1" cx="694" cy="215" r="10"/></g>
<g id="n26"><circle class="b1" cx="675" cy="379" r="10"/></g>
<g id="n27"><circle class="b2" cx="675" cy="393" r="10"/></g>
<g id="n28"><circle class="b2" cx="692" cy="489" r="10"/></g>
<g id="n29"><circle class="b1" cx="775" cy="502" r="10"/></g>
<g id="n30"><circle class="dk" cx="1121" cy="65" r="10"/></g>
<g id="n32"><circle class="dk" cx="1121" cy="79" r="10"/></g>
<g id="n31"><circle class="dk" cx="1132" cy="65" r="10"/></g>
<g id="n33"><circle class="lg" cx="1153" cy="65" r="10"/></g>
<g id="n34"><circle class="tl" cx="1198" cy="65" r="10"/></g>
<g id="n35"><circle class="pg" cx="1221" cy="65" r="10"/></g>
<g id="n36"><circle class="dk" cx="1184" cy="92" r="10"/></g>
<g id="n37"><circle class="dk" cx="1626" cy="106" r="10"/></g>
<g id="n38"><circle class="dk" cx="1626" cy="120" r="10"/></g>
<g id="n39"><circle class="tl" cx="1856" cy="188" r="10"/></g>
<g id="n40"><circle class="tl" cx="1856" cy="202" r="10"/></g>
<g id="n41"><circle class="yl" cx="938" cy="475" r="10"/></g>
<g id="n42"><circle class="lg" cx="880" cy="516" r="10"/></g>
<g id="n43"><circle class="lg" cx="874" cy="542" r="10"/></g>
<g id="n44"><circle class="lg" cx="887" cy="542" r="10"/></g>
<g id="n45"><circle class="dk" cx="871" cy="557" r="10"/></g>
<g id="n46"><circle class="dk" cx="889" cy="557" r="10"/></g>
<g id="n47"><circle class="dk" cx="1206" cy="434" r="10"/></g>
<g id="n48"><circle class="dk" cx="1225" cy="528" r="10"/></g>
<g id="n49"><circle class="lg" cx="1225" cy="543" r="10"/></g>
<g id="n50"><circle class="dk" cx="1228" cy="612" r="10"/></g>
<g id="n51"><circle class="yl" cx="1002" cy="639" r="10"/></g>
<g id="n52"><circle class="nv" cx="1100" cy="652" r="10"/></g>
<g id="n53"><circle class="tl" cx="1185" cy="666" r="10"/></g>
<g id="n54"><circle class="nv" cx="1214" cy="680" r="10"/></g>
<g id="n55"><circle class="yw" cx="948" cy="748" r="10"/></g>
<g id="n56"><circle class="yw" cx="972" cy="762" r="10"/></g>
<g id="n57"><circle class="b2" cx="747" cy="776" r="10"/></g>
<g id="n58"><circle class="b2" cx="703" cy="789" r="10"/></g>
<g id="n59"><circle class="b2" cx="680" cy="803" r="10"/></g>
<g id="n60"><circle class="yl" cx="824" cy="830" r="10"/></g>
<g id="n61"><circle class="yl" cx="972" cy="816" r="10"/></g>
<g id="n62"><circle class="yl" cx="1007" cy="843" r="10"/></g>
<g id="n63"><circle class="yl" cx="964" cy="857" r="10"/></g>
<g id="n64"><circle class="yl" cx="1007" cy="871" r="10"/></g>
<g id="n65"><circle class="yl" cx="1193" cy="857" r="10"/></g>
<g id="n66"><circle class="b1" cx="377" cy="858" r="10"/></g>
<g id="n67"><circle class="tl" cx="435" cy="898" r="10"/></g>
<g id="n68"><circle class="tl" cx="435" cy="912" r="10"/></g>
<g id="n69"><circle class="tl" cx="419" cy="925" r="10"/></g>
<g id="n70"><circle class="tl" cx="408" cy="939" r="10"/></g>
<g id="n71"><circle class="tl" cx="633" cy="885" r="10"/></g>
<g id="n72"><circle class="tl" cx="690" cy="871" r="10"/></g>
<g id="n73"><circle class="tl" cx="690" cy="885" r="10"/></g>
<g id="n74"><circle class="tl" cx="727" cy="884" r="10"/></g>
<g id="n75"><circle class="tl" cx="673" cy="898" r="10"/></g>
<g id="n76"><circle class="tl" cx="704" cy="898" r="10"/></g>
<g id="n77"><circle class="tl" cx="687" cy="912" r="10"/></g>
<g id="n79"><circle class="tl" cx="707" cy="926" r="10"/></g>
<g id="n78"><circle class="tl" cx="696" cy="926" r="10"/></g>
<g id="n80"><circle class="nv" cx="1330" cy="447" r="10"/></g>
<g id="n81"><circle class="nv" cx="1641" cy="461" r="10"/></g>
<g id="n82"><circle class="dk" cx="1735" cy="543" r="10"/></g>
<g id="n83"><circle class="dk" cx="1618" cy="556" r="10"/></g>
<g id="n84"><circle class="nv" cx="1624" cy="571" r="10"/></g>
<g id="n85"><circle class="nv" cx="1668" cy="584" r="10"/></g>
<g id="n86"><circle class="dk" cx="1549" cy="597" r="10"/></g>
<g id="n87"><circle class="dk" cx="1549" cy="612" r="10"/></g>
<g id="n88"><circle class="dk" cx="1526" cy="625" r="10"/></g>
<g id="n89"><circle class="nv" cx="1648" cy="638" r="10"/></g>
<g id="n90"><circle class="nv" cx="1642" cy="652" r="10"/></g>
<g id="n91"><circle class="nv" cx="1642" cy="667" r="10"/></g>
<g id="n92"><circle class="nv" cx="1424" cy="693" r="10"/></g>
<g id="n96"><circle class="nv" cx="1418" cy="721" r="10"/></g>
<g id="n97"><circle class="nv" cx="1413" cy="734" r="10"/></g>
<g id="n93"><circle class="nv" cx="1425" cy="707" r="10"/></g>
<g id="n94"><circle class="nv" cx="1445" cy="707" r="10"/></g>
<g id="n95"><circle class="dk" cx="1373" cy="707" r="10"/></g>
<g id="n98"><circle class="nv" cx="1336" cy="734" r="10"/></g>
<g id="n99"><circle class="dk" cx="1330" cy="939" r="10"/></g>
<g id="n100"><circle class="nv" cx="1441" cy="967" r="10"/></g>
<g id="n101"><circle class="dk" cx="1541" cy="953" r="10"/></g>
<g id="n102"><circle class="dk" cx="1310" cy="980" r="10"/></g>
<g id="n103"><circle class="dk" cx="1300" cy="1007" r="10"/></g>
<g id="n104"><circle class="dk" cx="1383" cy="1007" r="10"/></g>
<g id="n105"><circle class="dk" cx="1346" cy="1021" r="10"/></g>
<g id="n106"><circle class="dk" cx="1332" cy="1035" r="10"/></g>
<g id="n107"><circle class="dk" cx="1218" cy="993" r="10"/></g>
<g id="n108"><circle class="dk" cx="1207" cy="1048" r="10"/></g>
<g id="n109"><circle class="nv" cx="1277" cy="1062" r="10"/></g>
<g id="n110"><circle class="dk" cx="1290" cy="1076" r="10"/></g>
<g id="n112"><circle class="dk" cx="1456" cy="1049" r="10"/></g>
<g id="n111"><circle class="dk" cx="1456" cy="1035" r="10"/></g>
<g id="n113"><circle class="nv" cx="1479" cy="1089" r="10"/></g>
<g id="n115"><circle class="dk" cx="1496" cy="1103" r="10"/></g>
<g id="n114"><circle class="dk" cx="1496" cy="1089" r="10"/></g>
<g id="n116"><circle class="dk" cx="1433" cy="1117" r="10"/></g>
<g id="n117"><circle class="dk" cx="1595" cy="1062" r="10"/></g>
<g id="n119"><circle class="dk" cx="1604" cy="1089" r="10"/></g>
<g id="n120"><circle class="dk" cx="1621" cy="1089" r="10"/></g>
<g id="n118"><circle class="dk" cx="1621" cy="1075" r="10"/></g>
<g id="n121"><circle class="nv" cx="1652" cy="1062" r="10"/></g>
<g id="n122"><circle class="dk" cx="1729" cy="1048" r="10"/></g>
<g id="n123"><circle class="nv" cx="1746" cy="1089" r="10"/></g>
<g id="n124"><circle class="nv" cx="1780" cy="1089" r="10"/></g>
<g id="n125"><circle class="dk" cx="1811" cy="1103" r="10"/></g>
<g id="n126"><circle class="dk" cx="1847" cy="1117" r="10"/></g>
<g id="n127"><circle class="dk" cx="1847" cy="1131" r="10"/></g>
<g id="n128"><circle class="nv" cx="939" cy="1103" r="10"/></g>
<g id="n129"><circle class="tl" cx="246" cy="1062" r="10"/></g>
<g id="n130"><circle class="b2" cx="236" cy="1089" r="10"/></g>
<g id="n131"><circle class="b2" cx="236" cy="1103" r="10"/></g>
<g id="n132"><circle class="b2" cx="188" cy="1103" r="10"/></g>
<g id="n133"><circle class="b1" cx="147" cy="1076" r="10"/></g>
<g id="n134"><circle class="b1" cx="126" cy="1090" r="10"/></g>
<g id="n135"><circle class="dk" cx="103" cy="1117" r="10"/></g>
<g id="n137"><circle class="b1" cx="524" cy="1062" r="10"/></g>
<g id="n136"><circle class="tl" cx="524" cy="1048" r="10"/></g>
<g id="n138"><circle class="tl" cx="502" cy="1062" r="10"/></g>
<g id="n139"><circle class="b2" cx="524" cy="1076" r="10"/></g>
<g id="n140"><circle class="b1" cx="571" cy="1076" r="10"/></g>
<g id="n141"><circle class="b1" cx="588" cy="1076" r="10"/></g>
<g id="n142"><circle class="dk" cx="593" cy="1090" r="10"/></g>
<g id="n143"><circle class="b2" cx="559" cy="1090" r="10"/></g>
<g id="n144"><circle class="b2" cx="550" cy="1117" r="10"/></g>
<g id="n145"><circle class="tl" cx="627" cy="1035" r="10"/></g>
<g id="n146"><circle class="tl" cx="647" cy="1062" r="10"/></g>
<g id="n147"><circle class="tl" cx="617" cy="1076" r="10"/></g>
<g id="n148"><circle class="b1" cx="682" cy="1117" r="10"/></g>
<g id="n149"><circle class="b1" cx="760" cy="1089" r="10"/></g>
</g>
</svg>
